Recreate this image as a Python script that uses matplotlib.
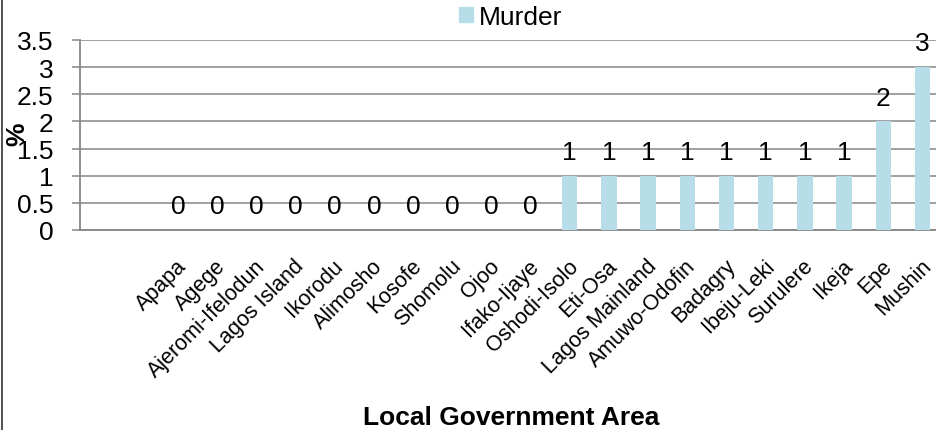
import matplotlib
matplotlib.use("Agg")
import matplotlib.pyplot as plt
from matplotlib.lines import Line2D
from matplotlib.patches import Patch
from matplotlib.transforms import ScaledTranslation

plt.rcParams['font.family'] = ['Liberation Sans', 'DejaVu Sans']

lgas = ["Apapa", "Agege", "Ajeromi-Ifelodun", "Lagos Island", "Ikorodu", "Alimosho",
        "Kosofe", "Shomolu", "Ojoo", "Ifako-Ijaye", "Oshodi-Isolo", "Eti-Osa",
        "Lagos Mainland", "Amuwo-Odofin", "Badagry", "Ibeju-Leki", "Surulere",
        "Ikeja", "Epe", "Mushin"]
murder = [0, 0, 0, 0, 0, 0, 0, 0, 0, 0, 1, 1, 1, 1, 1, 1, 1, 1, 2, 3]
yticks = [0, 0.5, 1, 1.5, 2, 2.5, 3, 3.5]
ytick_labels = ["0", "0.5", "1", "1.5", "2", "2.5", "3", "3.5"]

W, H = 937, 431
fig = plt.figure(figsize=(W / 100, H / 100), dpi=100)
ax = fig.add_axes([80 / W, 1 - 231 / H, 862 / W, 190 / H])

bar_color = "#B7DEE8"
grid_color = "#868686"
x = list(range(len(lgas)))
ax.bar(x, murder, width=0.39, color=bar_color, zorder=3)

ax.set_xlim(-2.5, 19.5)
ax.set_ylim(0, 3.5)
ax.set_yticks(yticks)
ax.set_yticklabels(ytick_labels, fontsize=19)
ax.yaxis.grid(True, color=grid_color, linewidth=1.1, zorder=0)
ax.set_axisbelow(True)

for s in ["top", "right"]:
    ax.spines[s].set_visible(False)
ax.spines["left"].set_color(grid_color)
ax.spines["left"].set_linewidth(1.3)
ax.spines["bottom"].set_color(grid_color)
ax.spines["bottom"].set_linewidth(1.3)
ax.tick_params(axis="y", length=5.8, width=1.1, color=grid_color, pad=13.5)
ax.tick_params(axis="x", length=0)

ax.set_xticks(x)
ax.set_xticklabels(lgas, rotation=45, ha="right", va="top",
                   rotation_mode="anchor", fontsize=15.5)
ax.tick_params(axis="x", pad=18)
shift = ScaledTranslation(-2 / 100, 0, fig.dpi_scale_trans)
for lbl in ax.get_xticklabels():
    lbl.set_transform(lbl.get_transform() + shift)

for xi, v in zip(x, murder):
    ax.annotate(str(v), (xi, v), xytext=(0, 12), textcoords="offset points",
                ha="center", va="baseline", fontsize=19, zorder=4)

fig.text(17 / W, 1 - 134 / H, "%", rotation=90, ha="center", va="center",
         fontsize=19, fontweight="bold")

fig.text(511 / W, 1 - 425 / H, "Local Government Area", ha="center",
         va="baseline", fontsize=19, fontweight="bold")

fig.legend(handles=[Patch(color=bar_color, label="Murder")], loc="center left",
           bbox_to_anchor=(459 / W, 1 - 18 / H), frameon=False, fontsize=19,
           handlelength=0.53, handleheight=0.53, handletextpad=0.23,
           borderpad=0, borderaxespad=0)

fig.add_artist(Line2D([2 / W, 2 / W], [0, 1], transform=fig.transFigure,
                      color="#333333", linewidth=1.2))

fig.savefig("out.png", dpi=100)
